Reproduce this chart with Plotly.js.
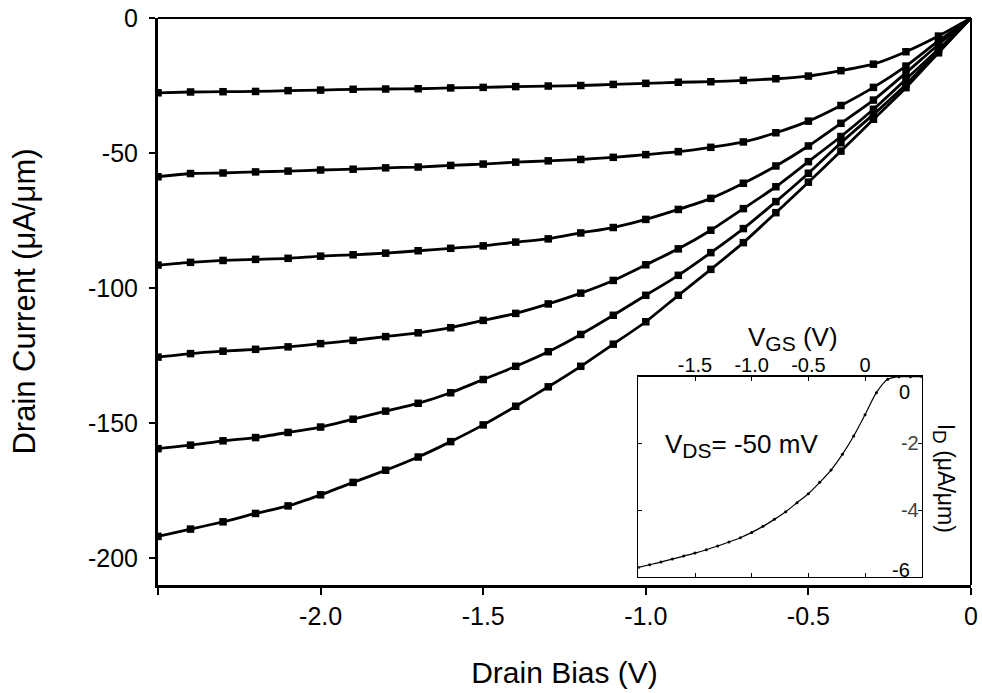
<!DOCTYPE html>
<html>
<head>
<meta charset="utf-8">
<script src="https://cdn.plot.ly/plotly-3.0.1.min.js"></script>
<style>html,body{margin:0;padding:0;background:#fff;}#chart{width:982px;height:693px;}</style>
</head>
<body>
<div id="chart"></div>
<script>
// Main chart: drain bias (V)
const drainBias = [-2.5, -2.4, -2.3, -2.2, -2.1, -2.0, -1.9, -1.8, -1.7, -1.6, -1.5, -1.4, -1.3,
                   -1.2, -1.1, -1.0, -0.9, -0.8, -0.7, -0.6, -0.5, -0.4, -0.3, -0.2, -0.1, 0];
// Drain current (uA/um), one array per gate bias curve (top to bottom)
const curve1 = [-27.7, -27.4, -27.3, -27.2, -26.9, -26.7, -26.4, -26.3, -26.2, -25.9, -25.7, -25.4, -25.2,
                -25.0, -24.6, -24.2, -23.8, -23.6, -23.1, -22.5, -21.5, -19.5, -17.1, -12.5, -6.7, 0];
const curve2 = [-58.8, -57.6, -57.4, -57.0, -56.7, -56.3, -56.0, -55.5, -55.2, -54.6, -54.1, -53.4, -52.9,
                -52.4, -51.6, -50.6, -49.5, -47.9, -45.9, -42.5, -38.2, -32.4, -25.7, -17.8, -8.5, 0];
const curve3 = [-91.5, -90.5, -89.8, -89.4, -89.0, -88.2, -87.7, -87.1, -86.2, -85.3, -84.4, -83.0, -81.8,
                -79.6, -77.6, -74.6, -70.9, -66.8, -61.2, -54.8, -47.4, -39.0, -30.4, -20.3, -9.8, 0];
const curve4 = [-125.6, -124.3, -123.4, -122.7, -121.8, -120.6, -119.4, -118.0, -116.6, -114.7, -112.0, -109.4, -105.9,
                -101.9, -97.2, -91.4, -85.5, -78.6, -70.6, -62.5, -53.2, -43.9, -33.8, -22.7, -11.6, 0];
const curve5 = [-159.5, -158.2, -156.6, -155.4, -153.5, -151.5, -148.6, -145.6, -142.7, -138.8, -133.9, -129.0, -123.6,
                -117.2, -110.1, -102.7, -95.3, -86.9, -78.0, -68.0, -57.5, -46.2, -35.7, -24.6, -12.2, 0];
const curve6 = [-192.0, -189.3, -186.6, -183.5, -180.7, -176.6, -172.0, -167.5, -162.6, -156.9, -150.7, -143.8, -136.6,
                -129.0, -120.8, -112.5, -102.7, -93.1, -83.2, -72.1, -60.8, -49.3, -37.5, -25.8, -12.9, 0];
const mainXTicks = [-2.5, -2.0, -1.5, -1.0, -0.5, 0];
const mainXTickText = ['', '-2.0', '-1.5', '-1.0', '-0.5', '0'];
const mainYTicks = [0, -50, -100, -150, -200];
const mainYTickText = ['0', '-50', '-100', '-150', '-200'];

// Inset: gate bias (V) vs drain current (uA/um) at VDS = -50 mV
const gateBias = [-2.0, -1.9, -1.8, -1.7, -1.6, -1.5, -1.4, -1.3, -1.2, -1.1, -1.0, -0.9, -0.8,
                  -0.7, -0.6, -0.5, -0.4, -0.3, -0.2, -0.1, 0.0, 0.1, 0.2, 0.3, 0.4, 0.5];
const insetCurrent = [-5.72, -5.64, -5.56, -5.47, -5.38, -5.29, -5.19, -5.08, -4.96, -4.83, -4.67, -4.49, -4.28,
                      -4.05, -3.78, -3.51, -3.17, -2.80, -2.33, -1.78, -1.14, -0.48, -0.08, 0.0, 0.0, 0.0];
const insetXTicks = [-1.5, -1.0, -0.5, 0];
const insetXTickText = ['-1.5', '-1.0', '-0.5', '0'];
const insetYTicks = [-2, -4];
const insetYTickText = ['-2', '-4'];

const FONT = 'Liberation Sans, Arial, Helvetica, sans-serif';
const curves = [curve1, curve2, curve3, curve4, curve5, curve6];

const traces = curves.map(c => ({
  x: drainBias, y: c, type: 'scatter', mode: 'lines+markers',
  line: {color: '#000', width: 2.8, shape: 'spline', smoothing: 0.6},
  marker: {symbol: 'square', size: 7.5, color: '#000'},
  xaxis: 'x', yaxis: 'y', showlegend: false, hoverinfo: 'skip'
}));
traces.push({
  x: gateBias, y: insetCurrent, type: 'scatter', mode: 'lines+markers',
  line: {color: '#000', width: 1.2, shape: 'spline', smoothing: 0.8},
  marker: {symbol: 'circle', size: 3, color: '#000'},
  xaxis: 'x2', yaxis: 'y2', showlegend: false, hoverinfo: 'skip'
});

const layout = {
  width: 982, height: 693,
  margin: {l: 158, r: 11, t: 18, b: 108},
  paper_bgcolor: '#fff', plot_bgcolor: 'rgba(0,0,0,0)',
  font: {family: FONT, color: '#000'},
  showlegend: false,
  xaxis: {
    range: [-2.5, 0], showgrid: false, zeroline: false,
    showline: true, linewidth: 3, linecolor: '#000',
    ticks: 'outside', ticklen: 7, tickwidth: 2, tickcolor: '#000',
    tickvals: mainXTicks, ticktext: mainXTickText,
    tickfont: {size: 25, family: FONT}, ticklabelstandoff: 0,
    title: {text: 'Drain Bias (V)', font: {size: 30, family: FONT}, standoff: 33},
    automargin: false
  },
  yaxis: {
    range: [-210, 0], showgrid: false, zeroline: false,
    showline: true, linewidth: 3, linecolor: '#000',
    ticks: 'outside', ticklen: 6, tickwidth: 2, tickcolor: '#000',
    tickvals: mainYTicks, ticktext: mainYTickText,
    tickfont: {size: 25, family: FONT}, ticklabelstandoff: 6,
    title: {text: 'Drain Current (\u03bcA/\u03bcm)', font: {size: 31, family: FONT}, standoff: 44},
    automargin: false
  },
  xaxis2: {
    domain: [0.5908, 0.9394], anchor: 'y2', side: 'top',
    range: [-2.0, 0.5], showgrid: false, zeroline: false,
    showline: true, linewidth: 1.2, linecolor: '#000', mirror: 'ticks',
    ticks: 'inside', ticklen: 4, tickwidth: 1, tickcolor: '#000',
    tickvals: insetXTicks, ticktext: insetXTickText,
    tickfont: {size: 20, family: FONT}, ticklabelstandoff: -5,
    automargin: false
  },
  yaxis2: {
    domain: [0.0146, 0.3674], anchor: 'x2', side: 'right',
    range: [-6, 0], showgrid: false, zeroline: false,
    showline: true, linewidth: 1.2, linecolor: '#000', mirror: 'ticks',
    ticks: 'inside', ticklen: 4, tickwidth: 1, tickcolor: '#000',
    tickvals: insetYTicks, ticktext: insetYTickText,
    ticklabelposition: 'inside',
    tickfont: {size: 20, family: FONT},
    automargin: false
  },
  shapes: [
    {type: 'line', xref: 'paper', yref: 'paper', x0: 0, x1: 1, y0: 1, y1: 1, line: {color: '#000', width: 2}},
    {type: 'line', xref: 'paper', yref: 'paper', x0: 1, x1: 1, y0: 0, y1: 1, line: {color: '#000', width: 2}}
  ],
  annotations: [
    {xref: 'x2', yref: 'y2', x: -0.636, y: 0, xanchor: 'center', yanchor: 'bottom', yshift: 20,
     text: 'V<sub><span style="font-size:21px">GS</span></sub> (V)', showarrow: false, font: {size: 26, family: FONT}},
    {xref: 'x2', yref: 'y2', x: 0.5, y: 0, xanchor: 'right', yanchor: 'top', yshift: -2, xshift: -10,
     text: '0', showarrow: false, font: {size: 20, family: FONT}},
    {xref: 'x2', yref: 'y2', x: 0.5, y: -6, xanchor: 'right', yanchor: 'bottom', yshift: -6, xshift: -10,
     text: '-6', showarrow: false, font: {size: 20, family: FONT}},
    {xref: 'x2', yref: 'y2', x: -1.78, y: -2.05, xanchor: 'left', yanchor: 'middle',
     text: 'V<sub><span style="font-size:21px">DS</span></sub>= -50 mV', showarrow: false, font: {size: 26, family: FONT}},
    {xref: 'x2', yref: 'y2', x: 0.5, y: -3.05, xanchor: 'center', yanchor: 'middle', xshift: 22,
     text: 'I<sub><span style="font-size:19px">D</span></sub> (\u03bcA/\u03bcm)', textangle: 90, showarrow: false, font: {size: 23, family: FONT}}
  ]
};

Plotly.newPlot('chart', traces, layout, {staticPlot: true, displayModeBar: false});
</script>
</body>
</html>
